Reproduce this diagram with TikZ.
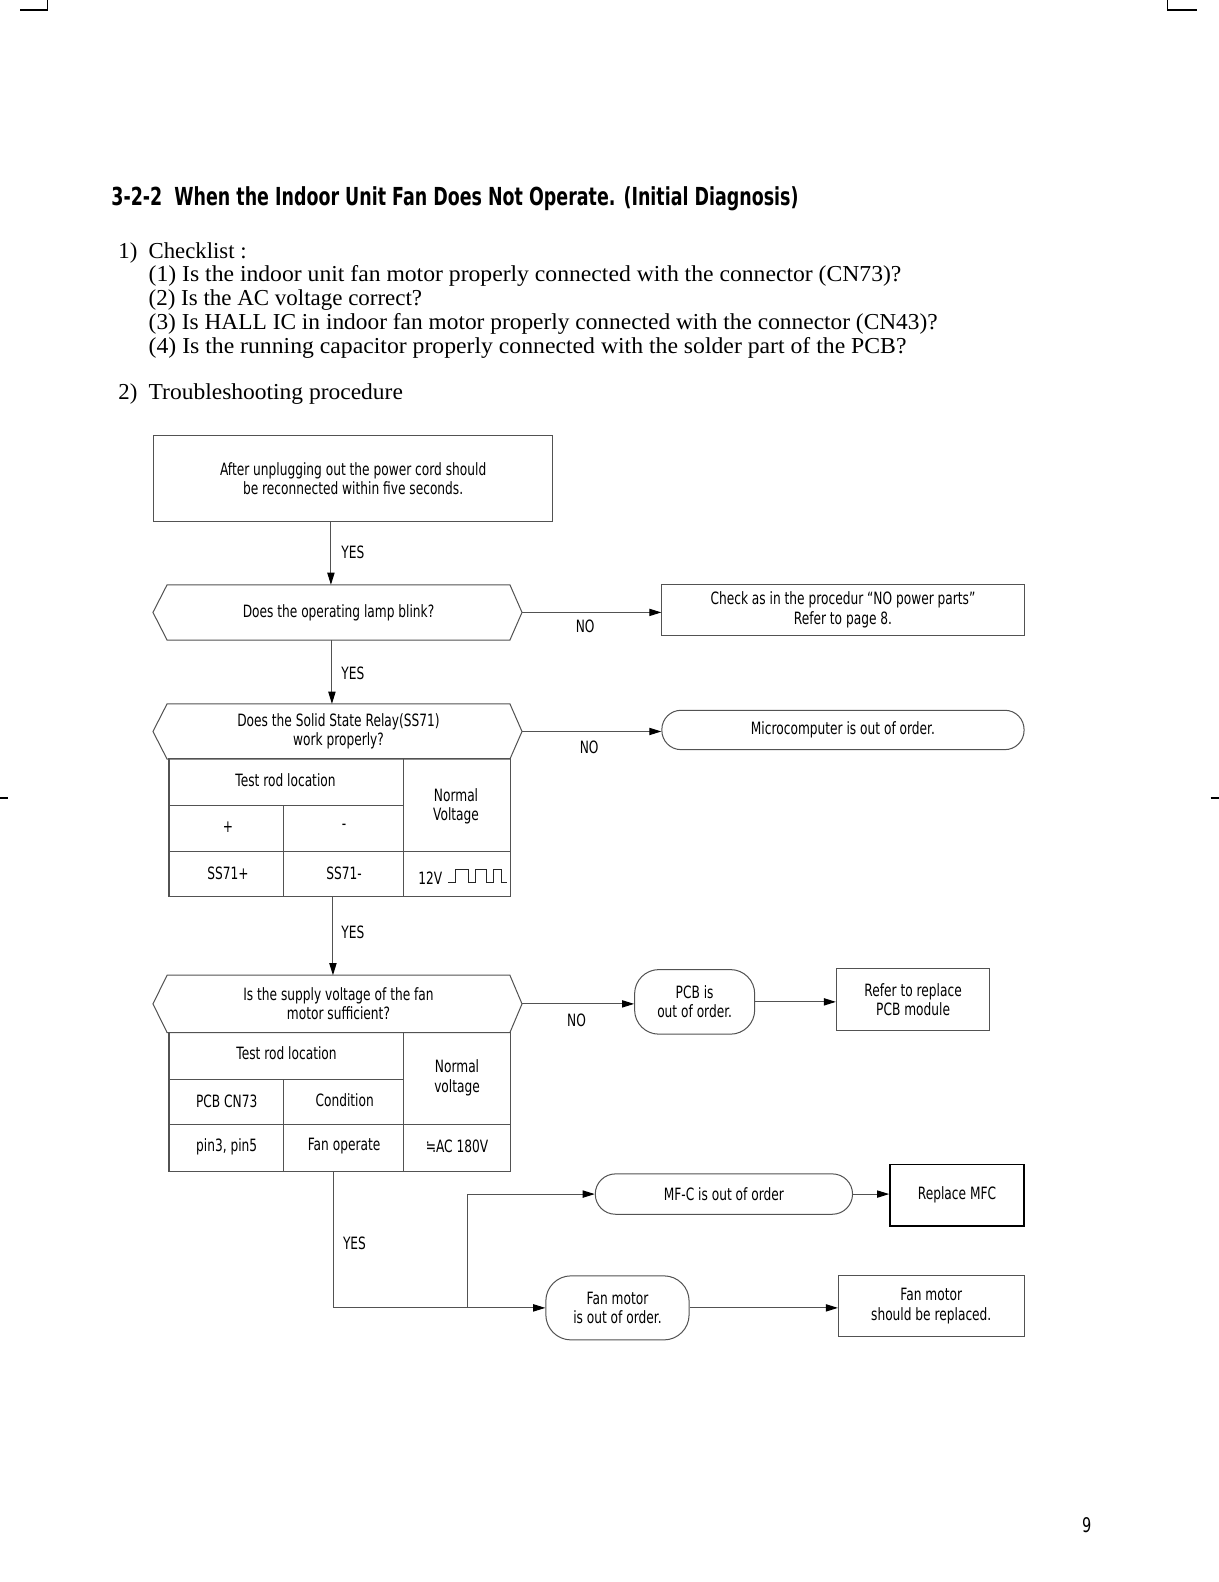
\documentclass[tikz,border=0pt]{standalone}
\usepackage{fontspec}
\usepackage{graphicx}
\usetikzlibrary{arrows.meta,calc}
\setmainfont{Liberation Serif}
\newfontfamily\ff[FakeStretch=0.72]{DejaVu Sans}
\newfontfamily\tff{DejaVu Sans}
\newcommand\fcfont{\ff\fontsize{8.4}{9.5}\selectfont}
\newcommand\fitto[2]{\resizebox{#1}{\height}{#2}}
\tikzset{
  ln/.style={draw=black!68, line width=0.5pt},
  arr/.style={draw=black!68, line width=0.5pt, -{Triangle[length=6pt,width=3.6pt,black]}},
  tx/.style={font=\fcfont, align=center, inner sep=0pt},
  bx/.style={tx, ln},
  cl/.style={anchor=base west, inner sep=0pt, font=\fontsize{11.3}{13}\selectfont},
  cropmk/.style={draw=black, line width=0.6pt}
}
\begin{document}
\begin{tikzpicture}[x=0.5pt,y=-0.5pt]
\useasboundingbox (0,0) rectangle (1208,1568);

% crop marks
\draw[cropmk] (20,10) -- (47,10) -- (47,0);
\draw[cropmk] (1157,0) -- (1157,10) -- (1186,10);
\draw[cropmk] (0,791) -- (8,791);
\draw[cropmk] (1200,791) -- (1208,791);

% title
\node[anchor=base west, inner sep=0pt] (title) at (110,204)
  {\fitto{340.5pt}{\tff\bfseries\fontsize{12.3}{14}\selectfont 3-2-2\ \ When the Indoor Unit Fan Does Not Operate. (Initial Diagnosis)}};

% checklist
\node[cl] (n1) at (117,256) {1)};
\node[cl] (c0) at (147,256) {\fitto{48.5pt}{Checklist :}};
\node[cl] (c1) at (147,279.5) {\fitto{373pt}{(1) Is the indoor unit fan motor properly connected with the connector (CN73)?}};
\node[cl] (c2) at (147,303) {\fitto{135.5pt}{(2) Is the AC voltage correct?}};
\node[cl] (c3) at (147,326.5) {\fitto{391pt}{(3) Is HALL IC in indoor fan motor properly connected with the connector (CN43)?}};
\node[cl] (c4) at (147,350) {\fitto{375.5pt}{(4) Is the running capacitor properly connected with the solder part of the PCB?}};
\node[cl] (n2) at (117,396) {2)};
\node[cl] (c5) at (147,396) {\fitto{126pt}{Troubleshooting procedure}};

% spines
\coordinate (s1) at (328,0);
\coordinate (s2) at (329,0);
\coordinate (s3) at (330,0);
\coordinate (s4) at (331,0);
\coordinate (s5) at (463,0);

% box 1
\node[bx, minimum width=198pt, minimum height=42.5pt] (b1) at (350,474.5)
  {After unplugging out the power cord should\\be reconnected within five seconds.};

% hexagon 1
\node[tx, minimum width=169.5pt, minimum height=27pt] (h1) at (335.5,607) {Does the operating lamp blink?};
\draw[ln] (h1.north west) -- (h1.north east) -- ($(h1.east)+(12,0)$) coordinate (h1r) -- (h1.south east) -- (h1.south west) -- ($(h1.west)+(-14,0)$) -- cycle;

\draw[arr] (b1.south -| s1) -- (h1.north -| s1);
\node[tx, anchor=west] (y1) at (338,547) {YES};

% box 2
\node[bx, minimum width=179.5pt, minimum height=25.5pt] (b2) at (835.5,604.5)
  {Check as in the procedur “NO power parts”\\Refer to page 8.};
\draw[arr] (h1r) -- (h1r -| b2.west);
\node[tx] (no1) at (580,621) {NO};

% hexagon 2
\node[tx, minimum width=169.5pt, minimum height=27pt] (h2) at (335.5,725) {Does the Solid State Relay(SS71)\\work properly?};
\draw[ln] (h2.north west) -- (h2.north east) -- ($(h2.east)+(12,0)$) coordinate (h2r) -- (h2.south east) -- (h2.south west) -- ($(h2.west)+(-14,0)$) -- cycle;
\draw[arr] (h1.south -| s2) -- (h2.north -| s2);
\node[tx, anchor=west] (y2) at (338,667) {YES};

% microcomputer
\node[bx, minimum width=179.5pt, minimum height=19.5pt, rounded corners=9.5pt] (mc) at (835.5,723.5) {Microcomputer is out of order.};
\draw[arr] (h2r) -- (h2r -| mc.west);
\node[tx] (no2) at (584,741) {NO};

% table 1
\node[ln, minimum width=169pt, minimum height=68.5pt, inner sep=0pt] (t1) at (336.5,820.5) {};
\draw[ln] (167.5,798) -- (400,798);
\draw[ln] (167.5,843.5) -- (505.5,843.5);
\draw[ln] (281,798) -- (281,889);
\draw[ln] (400,752) -- (400,889);
\node[tx] (t1a) at (283,773) {Test rod location};
\node[tx] (t1b) at (452,799.5) {Normal\\Voltage};
\node[tx] (t1c) at (226,820) {+};
\node[tx] (t1d) at (341,820) {-};
\node[tx] (t1e) at (226,866) {SS71+};
\node[tx] (t1f) at (341,866) {SS71-};
\node[tx] (t1g) at (426.5,870) {12V};
\draw[draw=black!85, line width=0.5pt] (444.3,874.8) -- (451,874.8) -- (451,862.2) -- (464.2,862.2) -- (464.2,874.8) -- (470.8,874.8) -- (470.8,862.2) -- (482.3,862.2) -- (482.3,874.8) -- (488.9,874.8) -- (488.9,862.2) -- (497.2,862.2) -- (497.2,874.8) -- (502.2,874.8);

% hexagon 3
\node[tx, minimum width=169.5pt, minimum height=28pt] (h3) at (335.5,995) {Is the supply voltage of the fan\\motor sufficient?};
\draw[ln] (h3.north west) -- (h3.north east) -- ($(h3.east)+(12,0)$) coordinate (h3r) -- (h3.south east) -- (h3.south west) -- ($(h3.west)+(-14,0)$) -- cycle;
\draw[arr] (t1.south -| s3) -- (h3.north -| s3);
\node[tx, anchor=west] (y3) at (338,924) {YES};

% PCB
\node[bx, minimum width=59.5pt, minimum height=32pt, rounded corners=12pt] (pcb) at (688.5,993) {PCB is\\out of order.};
\draw[arr] (h3r) -- (h3r -| pcb.west);
\node[tx] (no3) at (571.5,1011.6) {NO};
\node[bx, minimum width=76pt, minimum height=30.5pt] (ref) at (905,990.5) {Refer to replace\\PCB module};
\draw[arr] (pcb.east) -- (pcb.east -| ref.west);

% table 2
\node[ln, minimum width=169pt, minimum height=69.3pt, inner sep=0pt] (t2) at (336.5,1092.3) {};
\draw[ln] (167.5,1069.7) -- (400,1069.7);
\draw[ln] (167.5,1114.3) -- (505.5,1114.3);
\draw[ln] (281,1069.7) -- (281,1161.6);
\draw[ln] (400,1023) -- (400,1161.6);
\node[tx] (t2a) at (284,1044) {Test rod location};
\node[tx] (t2b) at (453,1068.3) {Normal\\voltage};
\node[tx] (t2c) at (224.7,1091.5) {PCB CN73};
\node[tx] (t2d) at (341.6,1090) {Condition};
\node[tx] (t2e) at (224.7,1136.5) {pin3, pin5};
\node[tx] (t2f) at (341,1136) {Fan operate};
\node[tx] (t2g) at (453,1136) {≒AC 180V};

% bottom part
\node[bx, minimum width=127.5pt, minimum height=20pt, rounded corners=10pt] (mfc) at (717.5,1183.5) {MF-C is out of order};
\node[tx, draw=black, line width=0.7pt, minimum width=66.5pt, minimum height=30.5pt] (rep) at (948.5,1184.5) {Replace MFC};
\node[bx, minimum width=71pt, minimum height=31.75pt, rounded corners=12.5pt] (fm) at (612,1296.3) {Fan motor\\is out of order.};
\node[bx, minimum width=92pt, minimum height=30.5pt] (fmr) at (923,1294.5) {Fan motor\\should be replaced.};
\draw[arr] (t2.south -| s4) |- (fm.west);
\draw[arr] (fm.west -| s5) |- (mfc.west);
\draw[arr] (mfc.east) -- (mfc.east -| rep.west);
\draw[arr] (fm.east) -- (fm.east -| fmr.west);
\node[tx, anchor=west] (y4) at (339.6,1232) {YES};

% page number
\node[font=\ff\fontsize{10}{12}\selectfont, inner sep=0pt] (pg) at (1077,1512) {9};
\end{tikzpicture}
\end{document}
